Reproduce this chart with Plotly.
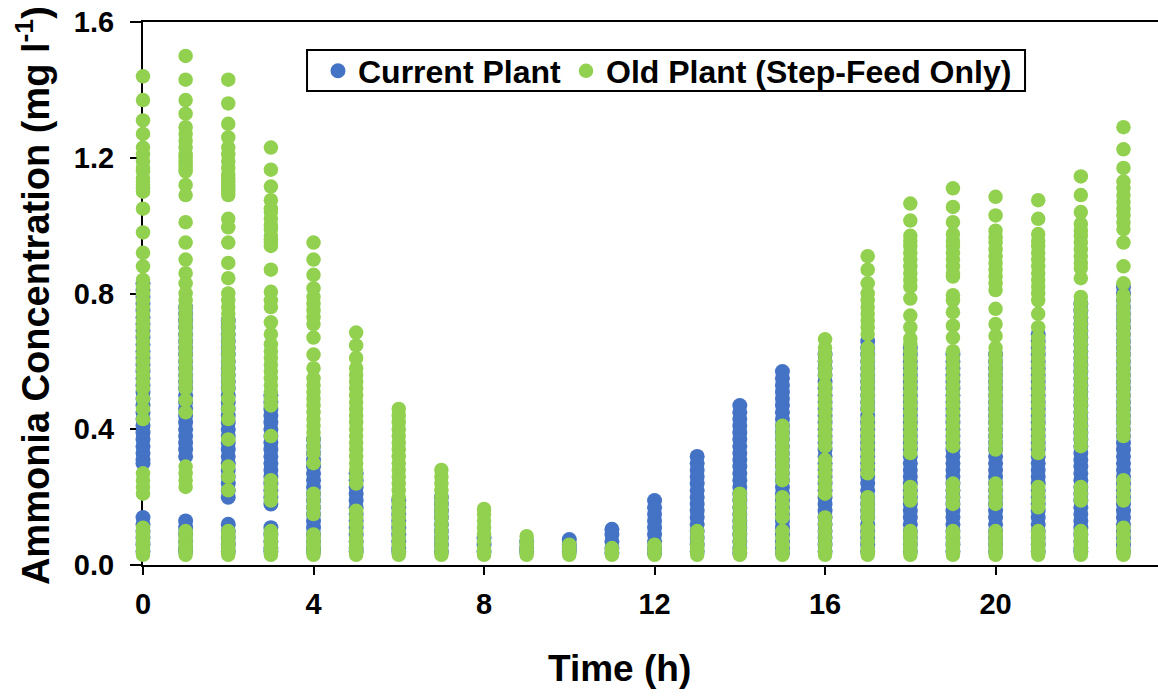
import plotly.graph_objects as go

# Hour of day (h)
hours = list(range(24))

# Ammonia concentration (mg/l) observed at each hour, current plant
current_plant = [
    [0.83, 0.81, 0.79, 0.77, 0.75, 0.73, 0.71, 0.69, 0.67, 0.65, 0.63, 0.61, 0.59, 0.57, 0.55, 0.53, 0.51, 0.49, 0.47, 0.45, 0.43, 0.41, 0.39, 0.37, 0.35, 0.33, 0.31, 0.30, 0.14, 0.12, 0.10, 0.08, 0.06, 0.04],
    [0.76, 0.74, 0.72, 0.70, 0.68, 0.66, 0.64, 0.62, 0.60, 0.58, 0.56, 0.54, 0.52, 0.50, 0.48, 0.46, 0.44, 0.42, 0.40, 0.38, 0.36, 0.34, 0.32, 0.13, 0.11, 0.09, 0.07, 0.05, 0.04],
    [0.72, 0.70, 0.68, 0.66, 0.64, 0.62, 0.60, 0.58, 0.56, 0.54, 0.52, 0.50, 0.48, 0.46, 0.44, 0.42, 0.40, 0.38, 0.36, 0.34, 0.32, 0.30, 0.28, 0.26, 0.24, 0.22, 0.20, 0.12, 0.10, 0.08, 0.06, 0.04],
    [0.50, 0.48, 0.46, 0.44, 0.42, 0.40, 0.38, 0.36, 0.34, 0.32, 0.30, 0.28, 0.26, 0.24, 0.22, 0.20, 0.18, 0.11, 0.09, 0.07, 0.05, 0.04],
    [0.37, 0.35, 0.33, 0.31, 0.29, 0.27, 0.25, 0.23, 0.21, 0.19, 0.17, 0.15, 0.13, 0.11, 0.09, 0.07, 0.05, 0.04],
    [0.27, 0.25, 0.23, 0.21, 0.19, 0.17, 0.15, 0.13, 0.11, 0.09, 0.07, 0.05, 0.04],
    [0.19, 0.17, 0.15, 0.13, 0.11, 0.09, 0.07, 0.05, 0.04],
    [0.20, 0.18, 0.16, 0.14, 0.12, 0.10, 0.08, 0.06, 0.04],
    [0.08, 0.06, 0.04],
    [0.07, 0.05, 0.04],
    [0.075, 0.06, 0.05, 0.04],
    [0.105, 0.09, 0.07, 0.05, 0.035],
    [0.19, 0.17, 0.15, 0.13, 0.11, 0.09, 0.07, 0.05, 0.035],
    [0.32, 0.30, 0.28, 0.26, 0.24, 0.22, 0.20, 0.18, 0.16, 0.14, 0.12, 0.10, 0.08, 0.06, 0.04],
    [0.47, 0.45, 0.43, 0.41, 0.39, 0.37, 0.35, 0.33, 0.31, 0.29, 0.27, 0.25, 0.23, 0.21, 0.19, 0.17, 0.15, 0.13, 0.11, 0.09, 0.07, 0.05, 0.035],
    [0.57, 0.55, 0.53, 0.51, 0.49, 0.47, 0.45, 0.43, 0.41, 0.39, 0.37, 0.35, 0.33, 0.31, 0.29, 0.27, 0.25, 0.23, 0.21, 0.19, 0.17, 0.15, 0.13, 0.11, 0.09, 0.07, 0.05, 0.035],
    [0.62, 0.60, 0.58, 0.56, 0.54, 0.52, 0.50, 0.48, 0.46, 0.44, 0.42, 0.40, 0.38, 0.36, 0.34, 0.32, 0.30, 0.28, 0.26, 0.24, 0.22, 0.20, 0.18, 0.16, 0.14, 0.12, 0.10, 0.08, 0.06, 0.04],
    [0.66, 0.64, 0.62, 0.60, 0.58, 0.56, 0.54, 0.52, 0.50, 0.48, 0.46, 0.44, 0.42, 0.40, 0.38, 0.36, 0.34, 0.32, 0.30, 0.28, 0.26, 0.24, 0.22, 0.20, 0.18, 0.16, 0.14, 0.12, 0.10, 0.08, 0.06, 0.04],
    [0.64, 0.62, 0.60, 0.58, 0.56, 0.54, 0.52, 0.50, 0.48, 0.46, 0.44, 0.42, 0.40, 0.38, 0.36, 0.34, 0.32, 0.30, 0.28, 0.26, 0.24, 0.22, 0.20, 0.18, 0.16, 0.14, 0.12, 0.10, 0.08, 0.06, 0.04],
    [0.62, 0.60, 0.58, 0.56, 0.54, 0.52, 0.50, 0.48, 0.46, 0.44, 0.42, 0.40, 0.38, 0.36, 0.34, 0.32, 0.30, 0.28, 0.26, 0.24, 0.22, 0.20, 0.18, 0.16, 0.14, 0.12, 0.10, 0.08, 0.06, 0.04],
    [0.62, 0.60, 0.58, 0.56, 0.54, 0.52, 0.50, 0.48, 0.46, 0.44, 0.42, 0.40, 0.38, 0.36, 0.34, 0.32, 0.30, 0.28, 0.26, 0.24, 0.22, 0.20, 0.18, 0.16, 0.14, 0.12, 0.10, 0.08, 0.06, 0.04],
    [0.68, 0.66, 0.64, 0.62, 0.60, 0.58, 0.56, 0.54, 0.52, 0.50, 0.48, 0.46, 0.44, 0.42, 0.40, 0.38, 0.36, 0.34, 0.32, 0.30, 0.28, 0.26, 0.24, 0.22, 0.20, 0.18, 0.16, 0.14, 0.12, 0.10, 0.08, 0.06, 0.04],
    [0.77, 0.75, 0.73, 0.71, 0.69, 0.67, 0.65, 0.63, 0.61, 0.59, 0.57, 0.55, 0.53, 0.51, 0.49, 0.47, 0.45, 0.43, 0.41, 0.39, 0.37, 0.35, 0.33, 0.31, 0.29, 0.27, 0.25, 0.23, 0.21, 0.19, 0.17, 0.15, 0.13, 0.11, 0.09, 0.07, 0.05, 0.04],
    [0.82, 0.80, 0.78, 0.76, 0.74, 0.72, 0.70, 0.68, 0.66, 0.64, 0.62, 0.60, 0.58, 0.56, 0.54, 0.52, 0.50, 0.48, 0.46, 0.44, 0.42, 0.40, 0.38, 0.36, 0.34, 0.32, 0.30, 0.28, 0.26, 0.24, 0.22, 0.20, 0.18, 0.16, 0.14, 0.12, 0.10, 0.08, 0.06, 0.04],
]

# Ammonia concentration (mg/l) observed at each hour, old plant (step-feed only)
old_plant = [
    [1.44, 1.37, 1.31, 1.27, 1.23, 1.21, 1.19, 1.17, 1.16, 1.14, 1.13, 1.12, 1.11, 1.10, 1.05, 0.98, 0.92, 0.88, 0.84, 0.82, 0.80, 0.78, 0.76, 0.74, 0.72, 0.70, 0.68, 0.66, 0.64, 0.62, 0.60, 0.58, 0.56, 0.54, 0.52, 0.49, 0.46, 0.43, 0.27, 0.25, 0.23, 0.21, 0.11, 0.10, 0.09, 0.08, 0.07, 0.06, 0.05, 0.04, 0.03],
    [1.50, 1.43, 1.37, 1.33, 1.29, 1.27, 1.25, 1.23, 1.21, 1.20, 1.19, 1.18, 1.17, 1.16, 1.12, 1.09, 1.01, 0.95, 0.90, 0.86, 0.83, 0.80, 0.78, 0.76, 0.74, 0.72, 0.70, 0.68, 0.66, 0.64, 0.62, 0.60, 0.58, 0.56, 0.54, 0.52, 0.485, 0.45, 0.29, 0.27, 0.25, 0.23, 0.10, 0.09, 0.08, 0.07, 0.06, 0.05, 0.04, 0.03],
    [1.43, 1.36, 1.30, 1.26, 1.23, 1.21, 1.19, 1.17, 1.15, 1.14, 1.13, 1.12, 1.11, 1.10, 1.09, 1.02, 0.995, 0.95, 0.89, 0.845, 0.80, 0.78, 0.76, 0.74, 0.72, 0.70, 0.68, 0.66, 0.64, 0.62, 0.60, 0.58, 0.56, 0.54, 0.52, 0.49, 0.46, 0.43, 0.37, 0.29, 0.26, 0.22, 0.10, 0.09, 0.08, 0.07, 0.06, 0.05, 0.04, 0.03],
    [1.23, 1.165, 1.115, 1.075, 1.05, 1.04, 1.02, 1.00, 0.99, 0.97, 0.96, 0.95, 0.94, 0.87, 0.805, 0.78, 0.76, 0.715, 0.68, 0.65, 0.63, 0.61, 0.59, 0.57, 0.55, 0.53, 0.51, 0.49, 0.47, 0.38, 0.25, 0.23, 0.21, 0.19, 0.10, 0.09, 0.08, 0.07, 0.06, 0.05, 0.04, 0.03],
    [0.95, 0.90, 0.855, 0.815, 0.79, 0.77, 0.75, 0.73, 0.71, 0.67, 0.62, 0.58, 0.55, 0.53, 0.51, 0.49, 0.47, 0.45, 0.43, 0.41, 0.39, 0.37, 0.35, 0.33, 0.30, 0.21, 0.19, 0.17, 0.15, 0.09, 0.08, 0.07, 0.06, 0.05, 0.04, 0.03],
    [0.685, 0.647, 0.61, 0.58, 0.56, 0.54, 0.52, 0.50, 0.48, 0.46, 0.44, 0.42, 0.40, 0.38, 0.36, 0.34, 0.32, 0.30, 0.28, 0.26, 0.24, 0.16, 0.14, 0.12, 0.10, 0.08, 0.07, 0.06, 0.05, 0.04, 0.03],
    [0.46, 0.44, 0.42, 0.40, 0.38, 0.36, 0.34, 0.32, 0.30, 0.28, 0.26, 0.24, 0.22, 0.20, 0.18, 0.16, 0.14, 0.12, 0.10, 0.08, 0.06, 0.04, 0.03],
    [0.28, 0.26, 0.24, 0.22, 0.20, 0.18, 0.16, 0.14, 0.12, 0.10, 0.08, 0.06, 0.04, 0.03],
    [0.165, 0.15, 0.13, 0.11, 0.09, 0.07, 0.05, 0.04, 0.03],
    [0.085, 0.07, 0.06, 0.05, 0.04, 0.03],
    [0.06, 0.05, 0.04, 0.03],
    [0.05, 0.04, 0.03],
    [0.06, 0.05, 0.04, 0.03],
    [0.10, 0.08, 0.06, 0.05, 0.04, 0.03],
    [0.21, 0.19, 0.17, 0.15, 0.13, 0.11, 0.09, 0.07, 0.05, 0.04, 0.03],
    [0.41, 0.39, 0.37, 0.35, 0.33, 0.31, 0.29, 0.27, 0.25, 0.20, 0.18, 0.16, 0.14, 0.10, 0.08, 0.06, 0.04, 0.03],
    [0.665, 0.64, 0.62, 0.60, 0.58, 0.56, 0.53, 0.51, 0.49, 0.47, 0.45, 0.43, 0.41, 0.39, 0.37, 0.35, 0.31, 0.29, 0.27, 0.25, 0.23, 0.21, 0.14, 0.12, 0.10, 0.08, 0.06, 0.04, 0.03],
    [0.91, 0.87, 0.83, 0.80, 0.78, 0.76, 0.74, 0.72, 0.70, 0.68, 0.64, 0.62, 0.60, 0.58, 0.56, 0.54, 0.52, 0.50, 0.48, 0.46, 0.43, 0.41, 0.39, 0.37, 0.35, 0.33, 0.31, 0.29, 0.27, 0.20, 0.18, 0.16, 0.14, 0.11, 0.09, 0.07, 0.05, 0.04, 0.03],
    [1.065, 1.015, 0.97, 0.955, 0.94, 0.92, 0.90, 0.88, 0.86, 0.84, 0.82, 0.785, 0.735, 0.70, 0.667, 0.65, 0.63, 0.61, 0.59, 0.57, 0.55, 0.53, 0.51, 0.49, 0.47, 0.45, 0.43, 0.41, 0.39, 0.37, 0.35, 0.33, 0.23, 0.21, 0.19, 0.10, 0.09, 0.08, 0.07, 0.06, 0.05, 0.04, 0.03],
    [1.11, 1.055, 1.01, 0.975, 0.955, 0.94, 0.92, 0.90, 0.88, 0.86, 0.85, 0.795, 0.78, 0.745, 0.705, 0.67, 0.63, 0.61, 0.59, 0.57, 0.55, 0.53, 0.51, 0.49, 0.47, 0.45, 0.43, 0.41, 0.39, 0.37, 0.35, 0.24, 0.22, 0.20, 0.18, 0.10, 0.09, 0.08, 0.07, 0.06, 0.05, 0.04, 0.03],
    [1.085, 1.03, 0.985, 0.965, 0.95, 0.93, 0.91, 0.89, 0.87, 0.85, 0.83, 0.81, 0.755, 0.71, 0.675, 0.64, 0.62, 0.60, 0.58, 0.56, 0.54, 0.52, 0.50, 0.48, 0.46, 0.44, 0.42, 0.40, 0.38, 0.36, 0.34, 0.24, 0.22, 0.20, 0.18, 0.10, 0.09, 0.08, 0.07, 0.06, 0.05, 0.04, 0.03],
    [1.075, 1.02, 0.975, 0.955, 0.94, 0.92, 0.90, 0.88, 0.86, 0.84, 0.82, 0.80, 0.78, 0.74, 0.70, 0.67, 0.65, 0.63, 0.61, 0.59, 0.57, 0.55, 0.53, 0.51, 0.49, 0.47, 0.45, 0.43, 0.41, 0.39, 0.37, 0.35, 0.33, 0.23, 0.21, 0.19, 0.17, 0.10, 0.09, 0.08, 0.07, 0.06, 0.05, 0.04, 0.03],
    [1.145, 1.09, 1.04, 1.005, 0.985, 0.97, 0.95, 0.93, 0.91, 0.89, 0.875, 0.845, 0.79, 0.77, 0.75, 0.73, 0.71, 0.69, 0.67, 0.65, 0.63, 0.61, 0.59, 0.57, 0.55, 0.53, 0.51, 0.49, 0.47, 0.45, 0.43, 0.41, 0.39, 0.37, 0.35, 0.23, 0.21, 0.19, 0.10, 0.09, 0.08, 0.07, 0.06, 0.05, 0.04, 0.03],
    [1.29, 1.225, 1.17, 1.13, 1.11, 1.09, 1.07, 1.05, 1.03, 1.01, 0.99, 0.95, 0.88, 0.83, 0.795, 0.78, 0.76, 0.74, 0.72, 0.70, 0.68, 0.66, 0.64, 0.62, 0.60, 0.58, 0.56, 0.54, 0.52, 0.50, 0.48, 0.46, 0.44, 0.42, 0.40, 0.38, 0.25, 0.23, 0.21, 0.19, 0.11, 0.09, 0.07, 0.05, 0.04, 0.03],
]

x_ticks = [0, 4, 8, 12, 16, 20]
y_ticks = [0.0, 0.4, 0.8, 1.2, 1.6]

BLUE = "#4472C4"
GREEN = "#92D050"
FONT = "Liberation Sans, Arial, sans-serif"


def flatten(series):
    xs, ys = [], []
    for h, vals in zip(hours, series):
        xs.extend([h] * len(vals))
        ys.extend(vals)
    return xs, ys


cx, cy = flatten(current_plant)
ox, oy = flatten(old_plant)

fig = go.Figure()
fig.add_trace(go.Scatter(
    x=cx, y=cy, mode="markers", name="Current Plant",
    marker=dict(color=BLUE, size=15, line=dict(width=0)),
    cliponaxis=False,
))
fig.add_trace(go.Scatter(
    x=ox, y=oy, mode="markers", name="Old Plant (Step-Feed Only)",
    marker=dict(color=GREEN, size=14.5, line=dict(width=0)),
    cliponaxis=False,
))

tick_font = dict(family=FONT, size=29, color="black", weight="bold")

fig.update_layout(
    width=1158, height=696,
    margin=dict(l=143, r=0, t=22, b=131),
    plot_bgcolor="white", paper_bgcolor="white",
    font=dict(family=FONT, color="black"),
    showlegend=True,
    legend=dict(
        orientation="h",
        x=0.1724, y=0.9098, xanchor="left", yanchor="middle",
        borderwidth=0, bgcolor="rgba(0,0,0,0)",
        font=dict(family=FONT, size=32, color="black", weight="bold"),
        itemwidth=30,
    ),
    # frame around the legend entries
    shapes=[
        dict(
            type="rect", xref="paper", yref="paper",
            x0=0.1616, x1=0.869, y0=0.873, y1=0.9484,
            line=dict(color="black", width=2), fillcolor="white",
            layer="below",
        ),
    ],
    xaxis=dict(
        range=[0, 23.81], tickvals=x_ticks,
        showline=True, linecolor="black", linewidth=2, mirror=True,
        ticks="outside", ticklen=8, tickwidth=2, tickcolor="black",
        tickfont=tick_font, showgrid=False, zeroline=False,
        ticklabelstandoff=4,
        layer="below traces",
    ),
    yaxis=dict(
        range=[0, 1.6], tickvals=y_ticks, tickformat=".1f",
        showline=True, linecolor="black", linewidth=2,
        ticks="outside", ticklen=11, tickwidth=2, tickcolor="black",
        tickfont=tick_font, showgrid=False, zeroline=False,
        ticklabelstandoff=10,
        layer="below traces",
    ),
    annotations=[
        dict(
            text="Time (h)", xref="paper", yref="paper",
            x=0.469, y=-0.1915, xanchor="center", yanchor="middle",
            showarrow=False,
            font=dict(family=FONT, size=37, color="black", weight="bold"),
        ),
        dict(
            text="Ammonia Concentration (mg l<sup>-1</sup>)",
            xref="paper", yref="paper",
            x=-0.1084, y=0.497, xanchor="center", yanchor="middle",
            textangle=-90, showarrow=False,
            font=dict(family=FONT, size=38, color="black", weight="bold"),
        ),
    ],
)

fig.write_html("out.html")
